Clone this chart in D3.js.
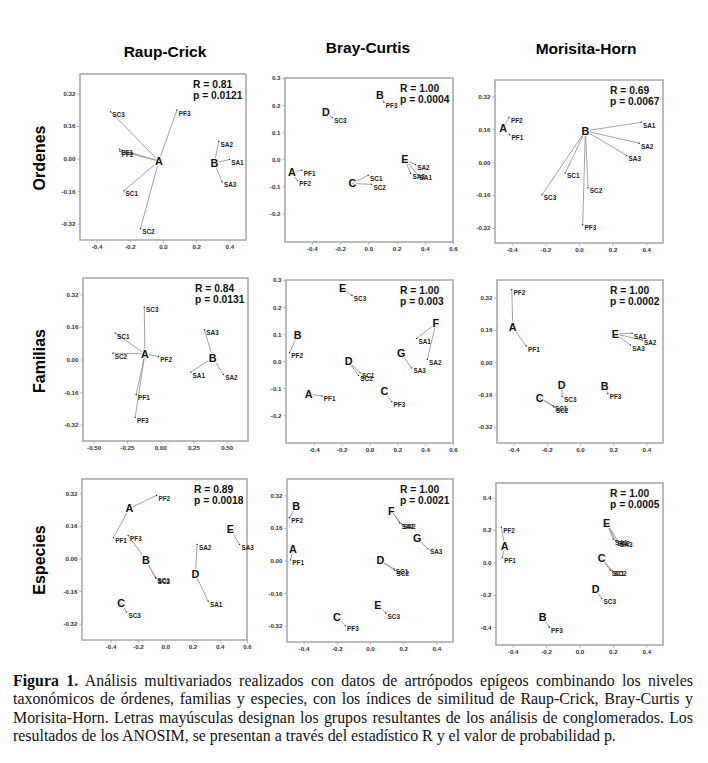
<!DOCTYPE html>
<html>
<head>
<meta charset="utf-8">
<script src="https://cdn.jsdelivr.net/npm/d3@7"></script>
<style>
  body { margin: 0; background: #fff; }
  svg { position: absolute; left: 0; top: 0; }
  #caption {
    position: absolute; left: 13px; top: 672px; width: 680px;
    font-family: "Liberation Serif", "Times New Roman", serif;
    font-size: 15.9px; line-height: 18.3px; color: #111;
  }
  #caption div { text-align: justify; text-align-last: justify; white-space: nowrap; }
  #caption div.last { text-align-last: left; }
</style>
</head>
<body>
<div id="caption"></div>
<script>
// ---- data ----
const methods = ["Raup-Crick", "Bray-Curtis", "Morisita-Horn"];
const levels = ["Ordenes", "Familias", "Especies"];
const samples = ["PF1", "PF2", "PF3", "SC1", "SC2", "SC3", "SA1", "SA2", "SA3"];

// ordination scores, same order as samples
const ordRaupX = [-0.262, -0.260, 0.084, -0.236, -0.136, -0.316, 0.400, 0.336, 0.356];
const ordRaupY = [0.046, 0.036, 0.238, -0.159, -0.345, 0.230, -0.005, 0.085, -0.115];
const ordBrayX = [-0.470, -0.501, 0.111, 0.000, 0.024, -0.254, 0.350, 0.334, 0.300];
const ordBrayY = [-0.041, -0.080, 0.210, -0.059, -0.093, 0.154, -0.058, -0.020, -0.052];
const ordMoriX = [-0.412, -0.416, 0.022, -0.082, 0.054, -0.220, 0.370, 0.358, 0.284];
const ordMoriY = [0.133, 0.219, -0.305, -0.053, -0.126, -0.159, 0.194, 0.092, 0.032];
const famRaupX = [-0.180, -0.013, -0.188, -0.338, -0.355, -0.120, 0.230, 0.475, 0.333];
const famRaupY = [-0.172, 0.015, -0.284, 0.130, 0.031, 0.258, -0.062, -0.074, 0.146];
const famBrayX = [-0.341, -0.575, 0.160, -0.067, -0.079, -0.126, 0.339, 0.415, 0.303];
const famBrayY = [-0.129, 0.031, -0.150, -0.043, -0.053, 0.243, 0.084, 0.006, -0.025];
const famMoriX = [-0.324, -0.411, 0.168, -0.162, -0.156, -0.107, 0.314, 0.374, 0.304];
const famMoriY = [0.080, 0.360, -0.156, -0.215, -0.222, -0.169, 0.143, 0.110, 0.085];
const espRaupX = [-0.380, -0.063, -0.271, -0.071, -0.068, -0.283, 0.315, 0.234, 0.546];
const espRaupY = [0.102, 0.310, 0.113, -0.095, -0.097, -0.263, -0.210, 0.069, 0.069];
const espBrayX = [-0.479, -0.485, -0.149, 0.145, 0.149, 0.095, 0.179, 0.189, 0.350];
const espBrayY = [0.003, 0.210, -0.320, -0.041, -0.049, -0.259, 0.184, 0.180, 0.057];
const espMoriX = [-0.462, -0.468, -0.181, 0.183, 0.196, 0.133, 0.202, 0.216, 0.232];
const espMoriY = [0.031, 0.217, -0.399, -0.048, -0.052, -0.223, 0.143, 0.134, 0.128];

// cluster groups: [letter, x, y, members]
const ordRaupGroups = [["A", -0.025, -0.012, ["PF1", "PF2", "PF3", "SC1", "SC2", "SC3"]],
                       ["B", 0.310, -0.022, ["SA1", "SA2", "SA3"]]];
const ordBrayGroups = [["A", -0.541, -0.047, ["PF1", "PF2"]], ["B", 0.082, 0.237, ["PF3"]],
                       ["C", -0.113, -0.090, ["SC1", "SC2"]], ["D", -0.301, 0.172, ["SC3"]],
                       ["E", 0.259, -0.001, ["SA1", "SA2", "SA3"]]];
const ordMoriGroups = [["A", -0.452, 0.165, ["PF1", "PF2"]],
                       ["B", 0.038, 0.152, ["PF3", "SC1", "SC2", "SC3", "SA1", "SA2", "SA3"]]];
const famRaupGroups = [["A", -0.115, 0.028, ["PF1", "PF2", "PF3", "SC1", "SC2", "SC3"]],
                       ["B", 0.395, 0.008, ["SA1", "SA2", "SA3"]]];
const famBrayGroups = [["A", -0.437, -0.122, ["PF1"]], ["B", -0.516, 0.096, ["PF2"]],
                       ["C", 0.107, -0.113, ["PF3"]], ["D", -0.150, -0.002, ["SC1", "SC2"]],
                       ["E", -0.193, 0.268, ["SC3"]], ["F", 0.477, 0.139, ["SA1", "SA2"]],
                       ["G", 0.227, 0.028, ["SA3"]]];
const famMoriGroups = [["A", -0.405, 0.172, ["PF1", "PF2"]], ["B", 0.148, -0.117, ["PF3"]],
                       ["C", -0.243, -0.177, ["SC1", "SC2"]], ["D", -0.111, -0.112, ["SC3"]],
                       ["E", 0.213, 0.140, ["SA1", "SA2", "SA3"]]];
const espRaupGroups = [["A", -0.263, 0.245, ["PF1", "PF2"]], ["B", -0.141, -0.008, ["PF3", "SC1", "SC2"]],
                       ["C", -0.322, -0.218, ["SC3"]], ["D", 0.222, -0.079, ["SA1", "SA2"]],
                       ["E", 0.478, 0.143, ["SA3"]]];
const espBrayGroups = [["A", -0.465, 0.054, ["PF1"]], ["B", -0.445, 0.266, ["PF2"]],
                       ["C", -0.199, -0.276, ["PF3"]], ["D", 0.062, 0.000, ["SC1", "SC2"]],
                       ["E", 0.048, -0.217, ["SC3"]], ["F", 0.129, 0.243, ["SA1", "SA2"]],
                       ["G", 0.284, 0.107, ["SA3"]]];
const espMoriGroups = [["A", -0.448, 0.101, ["PF1", "PF2"]], ["B", -0.220, -0.337, ["PF3"]],
                       ["C", 0.133, 0.025, ["SC1", "SC2"]], ["D", 0.097, -0.167, ["SC3"]],
                       ["E", 0.163, 0.242, ["SA1", "SA2", "SA3"]]];

// ANOSIM results, row by row
const rValues = [0.81, 1.00, 0.69, 0.84, 1.00, 1.00, 0.89, 1.00, 1.00];
const pValues = ["0.0121", "0.0004", "0.0067", "0.0131", "0.003", "0.0002", "0.0018", "0.0021", "0.0005"];

// axis extents and tick labels
const xDomains = [[-0.5, 0.5], [-0.59, 0.6], [-0.5, 0.5],
                  [-0.58, 0.66], [-0.6, 0.6], [-0.5, 0.5],
                  [-0.61, 0.6], [-0.5, 0.5], [-0.5, 0.5]];
const yDomains = [[-0.4, 0.415], [-0.306, 0.3], [-0.394, 0.4],
                  [-0.4, 0.4], [-0.303, 0.3], [-0.4, 0.407],
                  [-0.4, 0.39], [-0.4, 0.4], [-0.51, 0.49]];
const xTicks4 = [-0.4, -0.2, 0.0, 0.2, 0.4];
const xTicks6 = [-0.4, -0.2, 0.0, 0.2, 0.4, 0.6];
const xTicksFam = [-0.5, -0.25, 0.0, 0.25, 0.5];
const yTicks32 = [-0.32, -0.16, 0.0, 0.16, 0.32];
const yTicks3 = [-0.2, -0.1, 0.0, 0.1, 0.2, 0.3];
const yTicks4 = [-0.4, -0.2, 0.0, 0.2, 0.4];

const captionLines = [
  "<b>Figura 1.</b> Análisis multivariados realizados con datos de artrópodos epígeos combinando los niveles",
  "taxonómicos de órdenes, familias y especies, con los índices de similitud de Raup-Crick, Bray-Curtis y",
  "Morisita-Horn. Letras mayúsculas designan los grupos resultantes de los análisis de conglomerados. Los",
  "resultados de los ANOSIM, se presentan a través del estadístico R y el valor de probabilidad p."
];

// ---- layout ----
const W = 708, H = 763;
const frames = [[80, 74, 246, 240], [285, 78, 453, 242], [495, 80, 663, 243],
                [83, 278, 248, 441], [286, 280, 453, 443], [497, 280, 663, 443],
                [82, 479, 247, 640], [287, 479, 453, 642], [496, 483, 663, 645]];

const panels = [
  { xs: ordRaupX, ys: ordRaupY, groups: ordRaupGroups, xt: xTicks4, xd: 1, yt: yTicks32, yd: 2 },
  { xs: ordBrayX, ys: ordBrayY, groups: ordBrayGroups, xt: xTicks6, xd: 1, yt: yTicks3, yd: 1 },
  { xs: ordMoriX, ys: ordMoriY, groups: ordMoriGroups, xt: xTicks4, xd: 1, yt: yTicks32, yd: 2 },
  { xs: famRaupX, ys: famRaupY, groups: famRaupGroups, xt: xTicksFam, xd: 2, yt: yTicks32, yd: 2 },
  { xs: famBrayX, ys: famBrayY, groups: famBrayGroups, xt: xTicks6, xd: 1, yt: yTicks3, yd: 1 },
  { xs: famMoriX, ys: famMoriY, groups: famMoriGroups, xt: xTicks4, xd: 1, yt: yTicks32, yd: 2 },
  { xs: espRaupX, ys: espRaupY, groups: espRaupGroups, xt: xTicks6, xd: 1, yt: yTicks32, yd: 2 },
  { xs: espBrayX, ys: espBrayY, groups: espBrayGroups, xt: xTicks4, xd: 1, yt: yTicks32, yd: 2 },
  { xs: espMoriX, ys: espMoriY, groups: espMoriGroups, xt: xTicks4, xd: 1, yt: yTicks4, yd: 1 }
];

const sans = "'Liberation Sans', Arial, sans-serif";

const svg = d3.select("body").append("svg").attr("width", W).attr("height", H);

// column titles
const titleX = [165, 368, 586];
const titleY = [57, 53, 54];
svg.selectAll(".col-title")
  .data(methods)
  .enter()
  .append("text")
  .attr("class", "col-title")
  .attr("x", (d, i) => titleX[i])
  .attr("y", (d, i) => titleY[i])
  .attr("text-anchor", "middle")
  .style("font-family", sans)
  .style("font-weight", "bold")
  .style("font-size", "15.5px")
  .text((d) => d);

// row titles
const rowY = [158, 361, 560];
svg.selectAll(".row-title")
  .data(levels)
  .enter()
  .append("text")
  .attr("class", "row-title")
  .attr("transform", (d, i) => `translate(45, ${rowY[i]}) rotate(-90)`)
  .attr("text-anchor", "middle")
  .style("font-family", sans)
  .style("font-weight", "bold")
  .style("font-size", "16px")
  .text((d) => d);

panels.forEach((p, i) => {
  const [l, t, r, b] = frames[i];
  const x = d3.scaleLinear().domain(xDomains[i]).range([l, r]);
  const y = d3.scaleLinear().domain(yDomains[i]).range([b, t]);
  const g = svg.append("g").attr("class", "panel");

  // axes
  const xAxis = g.append("g")
    .attr("transform", `translate(0, ${b})`)
    .call(d3.axisBottom(x).tickValues(p.xt).tickSize(2.5).tickPadding(2)
      .tickFormat((d) => d.toFixed(p.xd)));
  const yAxis = g.append("g")
    .attr("transform", `translate(${l}, 0)`)
    .call(d3.axisLeft(y).tickValues(p.yt).tickSize(2.5).tickPadding(2)
      .tickFormat((d) => d.toFixed(p.yd)));
  [xAxis, yAxis].forEach((a) => {
    a.select(".domain").remove();
    a.selectAll("line").attr("stroke", "#999").attr("stroke-width", 0.8);
    a.selectAll("text")
      .style("font-family", sans)
      .style("font-weight", "bold")
      .style("font-size", "6.2px")
      .attr("fill", "#333");
  });

  // frame
  g.append("rect")
    .attr("x", l).attr("y", t)
    .attr("width", r - l).attr("height", b - t)
    .attr("fill", "none")
    .attr("stroke", "#aaa")
    .attr("stroke-width", 1.6);

  const pts = samples.map((s, k) => ({ name: s, x: p.xs[k], y: p.ys[k] }));
  const byName = {};
  pts.forEach((d) => (byName[d.name] = d));

  // spider lines from group letter to each member
  const links = [];
  p.groups.forEach(([letter, gx, gy, members]) => {
    members.forEach((m) => links.push({ gx, gy, pt: byName[m] }));
  });
  g.selectAll(".link")
    .data(links)
    .enter()
    .append("line")
    .attr("x1", (d) => x(d.gx)).attr("y1", (d) => y(d.gy))
    .attr("x2", (d) => x(d.pt.x)).attr("y2", (d) => y(d.pt.y))
    .attr("stroke", "#8a8a8a")
    .attr("stroke-width", 0.8);

  // sample dots and labels
  g.selectAll(".dot")
    .data(pts)
    .enter()
    .append("circle")
    .attr("cx", (d) => x(d.x)).attr("cy", (d) => y(d.y))
    .attr("r", 0.7)
    .attr("fill", "#222");
  g.selectAll(".lbl")
    .data(pts)
    .enter()
    .append("text")
    .attr("x", (d) => x(d.x) + 1.8)
    .attr("y", (d) => y(d.y) + 5.5)
    .style("font-family", sans)
    .style("font-weight", "bold")
    .style("font-size", "6.4px")
    .attr("fill", "#222")
    .text((d) => d.name);

  // group letters
  g.selectAll(".grp")
    .data(p.groups)
    .enter()
    .append("text")
    .attr("x", (d) => x(d[1]))
    .attr("y", (d) => y(d[2]) + 3.8)
    .attr("text-anchor", "middle")
    .style("font-family", sans)
    .style("font-weight", "bold")
    .style("font-size", "10.8px")
    .style("paint-order", "stroke")
    .attr("stroke", "#fff")
    .attr("stroke-width", 2.2)
    .attr("fill", "#111")
    .text((d) => d[0]);

  // ANOSIM statistics
  const stats = g.append("text")
    .style("font-family", sans)
    .style("font-weight", "bold")
    .style("font-size", "10.3px")
    .attr("fill", "#111");
  stats.append("tspan").attr("x", r - 53).attr("y", t + 13.5)
    .text(`R = ${rValues[i].toFixed(2)}`);
  stats.append("tspan").attr("x", r - 53).attr("y", t + 24.5)
    .text(`p = ${pValues[i]}`);
});

// caption
d3.select("#caption")
  .selectAll("div")
  .data(captionLines)
  .enter()
  .append("div")
  .attr("class", (d, i) => (i === captionLines.length - 1 ? "last" : null))
  .html((d) => d);
</script>
</body>
</html>
